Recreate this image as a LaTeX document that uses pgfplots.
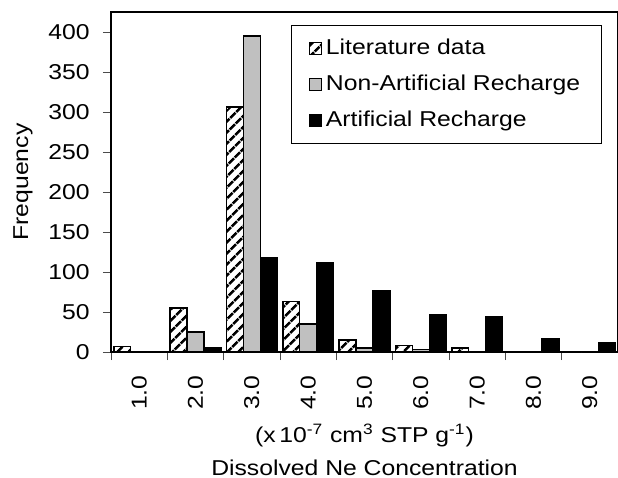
\documentclass[border=0pt]{standalone}
\usepackage{fontspec}
\setmainfont{Liberation Sans}[FakeStretch=1.15]
\usepackage{pgfplots}
\pgfplotsset{compat=1.18}
\usetikzlibrary{patterns.meta}
\definecolor{silverbar}{RGB}{192,192,192}
\newcommand{\chartfont}{\fontsize{10.75}{16}\selectfont}
\newcommand{\xlabfont}{\fontsize{10.75}{16.5}\selectfont}
\begin{document}
\begin{tikzpicture}
\useasboundingbox (-55.5pt,-63pt) rectangle (253.5pt,176pt);
\begin{axis}[
  at={(0,0)}, anchor=south west,
  scale only axis, width=253.5pt, height=170pt,
  /pgf/number format/assume math mode=true,
  font=\chartfont,
  ybar=0pt, bar width=0.3,
  xmin=-0.5, xmax=8.5, ymin=0, ymax=425,
  xtick={0,...,8},
  xticklabels={1.0,2.0,3.0,4.0,5.0,6.0,7.0,8.0,9.0},
  minor xtick={-0.5,0.5,...,8.5},
  ytick={0,50,...,400},
  tick align=outside, tick pos=left,
  major tick length=4pt, minor tick length=4pt,
  major x tick style={draw=none},
  minor x tick style={line width=0.4pt, black!70},
  major y tick style={line width=0.4pt, black!70},
  axis line style={line width=1pt},
  every tick label/.append style={font=\chartfont},
  yticklabel style={anchor=east, inner sep=0pt, xshift=-6.5pt},
  xticklabel style={yshift=-7.5pt, rotate=90, anchor=east, inner sep=0pt},
  ylabel={Frequency},
  ylabel style={at={(axis description cs:-0.154,0.5)}, anchor=south, inner sep=0pt, font=\chartfont},
  xlabel={(x\,10\textsuperscript{-7} cm\textsuperscript{3} STP g\textsuperscript{-1})\\Dissolved Ne Concentration},
  xlabel style={at={(axis description cs:0.5,0)}, anchor=south, yshift=-62pt, inner sep=0pt, align=center, font=\xlabfont},
  legend style={at={(0.968,0.962)}, anchor=north east, draw=black, line width=0.6pt,
    inner xsep=8.5pt, inner ysep=2.5pt, row sep=0pt, font=\chartfont,
    nodes={inner ysep=0pt, text height=7.8pt, text depth=2.2pt, minimum height=18pt}},
  legend cell align=left,
  legend image code/.code={\draw[#1, line width=0.6pt] (0pt,-3pt) rectangle (6pt,3pt);},
]
\addplot[draw=black, line width=0.75pt, pattern={Lines[angle=45,distance=4pt,line width=1.4pt]}, bar shift=-0.3]
  coordinates {(0,7)(1,55)(2,306)(3,63)(4,15)(5,8)(6,5)(7,0)(8,0)};
\addplot[draw=black, fill=silverbar, line width=0.75pt, bar shift=0]
  coordinates {(0,0)(1,25)(2,395)(3,35)(4,5)(5,3)(6,0)(7,0)(8,0)};
\addplot[draw=black, fill=black, line width=0.75pt, bar shift=0.3]
  coordinates {(0,0)(1,5)(2,118)(3,112)(4,76)(5,46)(6,44)(7,16)(8,11)};
\legend{Literature data, Non-Artificial Recharge, Artificial Recharge}
\end{axis}
\end{tikzpicture}
\end{document}
